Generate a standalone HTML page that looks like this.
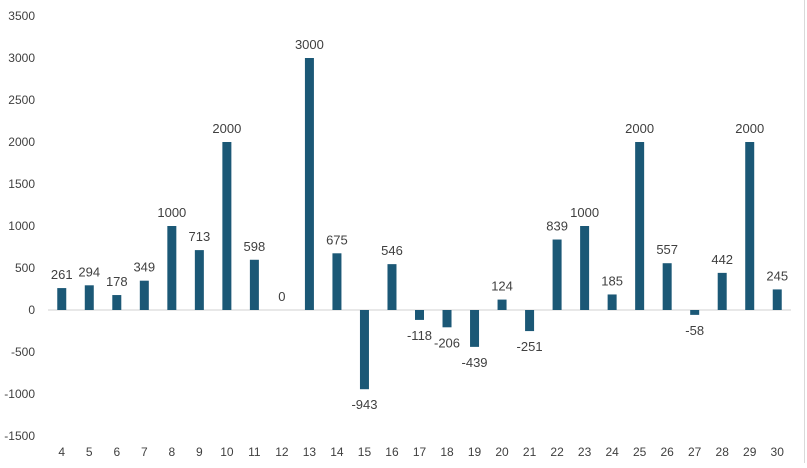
<!DOCTYPE html>
<html><head><meta charset="utf-8"><style>
body{margin:0;background:#fff;width:807px;height:463px;overflow:hidden}
text{font-family:"Liberation Sans",sans-serif;font-size:12px;fill:#404040}
text.val{font-size:13px}
</style></head><body>
<svg id="chart" width="807" height="463" xmlns="http://www.w3.org/2000/svg">
<line x1="804.5" y1="0" x2="804.5" y2="463" stroke="#d9d9d9"/>
</svg>
<script>
const categories=["4","5","6","7","8","9","10","11","12","13","14","15","16","17","18","19","20","21","22","23","24","25","26","27","28","29","30"];
const values=[261,294,178,349,1000,713,2000,598,0,3000,675,-943,546,-118,-206,-439,124,-251,839,1000,185,2000,557,-58,442,2000,245];
const yTicks=[3500,3000,2500,2000,1500,1000,500,0,-500,-1000,-1500];
const svgEl=document.getElementById('chart');
const NS='http://www.w3.org/2000/svg';
const plotLeft=48,plotRight=791,yMax=3500,yMin=-1500,plotTop=16,plotBottom=436;
const step=(plotRight-plotLeft)/categories.length;
function xPos(i){return plotLeft+step*(i+0.5);}
function yPos(v){return plotTop+(yMax-v)/(yMax-yMin)*(plotBottom-plotTop);}
function mk(tag,attrs,txt){const e=document.createElementNS(NS,tag);for(const k in attrs)e.setAttribute(k,attrs[k]);if(txt!==undefined)e.textContent=txt;svgEl.appendChild(e);return e;}
yTicks.forEach(t=>{
  const e=mk('text',{x:35,y:yPos(t)+4,'text-anchor':'end'},String(t));
  
  
});
const zl=mk('line',{x1:plotLeft,x2:plotRight,y1:yPos(0),y2:yPos(0),stroke:'#d0d0d0','stroke-width':1});


const bw=9;
values.forEach((v,i)=>{
  const y0=yPos(0),yv=yPos(v);
  const r=mk('rect',{x:xPos(i)-bw/2,y:Math.min(y0,yv),width:bw,height:Math.abs(yv-y0),fill:'#1b5876'});
  
  
  const ly=v>=0?yv-9:yv+20;
  const l=mk('text',{x:xPos(i),y:ly,'text-anchor':'middle','class':'val'},String(v));
  
  
  const c=mk('text',{x:xPos(i),y:456,'text-anchor':'middle'},categories[i]);
  
  
});
</script>
</body></html>
